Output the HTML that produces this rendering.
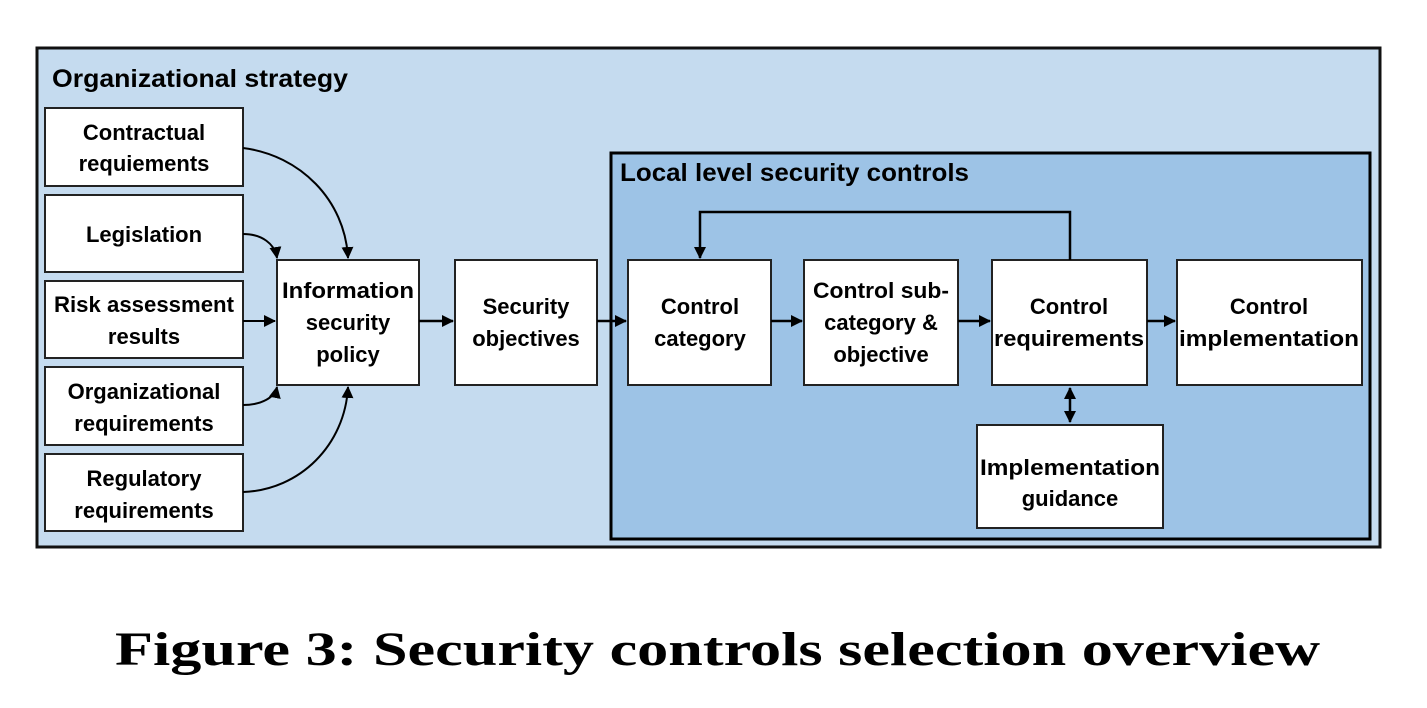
<!DOCTYPE html>
<html><head><meta charset="utf-8"><style>
html,body{margin:0;padding:0;background:#fff;}
svg{display:block;}
.t{font-family:"Liberation Sans",sans-serif;font-weight:bold;font-size:22px;fill:#000;text-anchor:middle;}
</style></head><body>
<svg width="1427" height="708" viewBox="0 0 1427 708" xmlns="http://www.w3.org/2000/svg">
<defs>
<marker id="a" markerWidth="12" markerHeight="12" refX="11" refY="6" orient="auto" markerUnits="userSpaceOnUse">
<path d="M0,0 L12,6 L0,12 Z" fill="#000"/></marker>
<marker id="as" markerWidth="12" markerHeight="12" refX="1" refY="6" orient="auto" markerUnits="userSpaceOnUse">
<path d="M12,0 L0,6 L12,12 Z" fill="#000"/></marker>
</defs>
<rect x="37" y="48" width="1343" height="499" fill="#c5dbef" stroke="#111" stroke-width="3"/>
<text x="52" y="87" class="t" style="text-anchor:start;font-size:25px" textLength="296" lengthAdjust="spacingAndGlyphs">Organizational strategy</text>
<rect x="611" y="153" width="759" height="386" fill="#9dc3e6" stroke="#000" stroke-width="3"/>
<text x="620" y="181" class="t" style="text-anchor:start;font-size:25px" textLength="349" lengthAdjust="spacingAndGlyphs">Local level security controls</text>
<g fill="#fff" stroke="#222" stroke-width="2">
<rect x="45" y="108" width="198" height="78"/>
<rect x="45" y="195" width="198" height="77"/>
<rect x="45" y="281" width="198" height="77"/>
<rect x="45" y="367" width="198" height="78"/>
<rect x="45" y="454" width="198" height="77"/>
<rect x="277" y="260" width="142" height="125"/>
<rect x="455" y="260" width="142" height="125"/>
<rect x="628" y="260" width="143" height="125"/>
<rect x="804" y="260" width="154" height="125"/>
<rect x="992" y="260" width="155" height="125"/>
<rect x="1177" y="260" width="185" height="125"/>
<rect x="977" y="425" width="186" height="103"/>
</g>
<g class="t">
<text x="144" y="140">Contractual</text><text x="144" y="171">requiements</text>
<text x="144" y="242">Legislation</text>
<text x="144" y="312" textLength="180" lengthAdjust="spacingAndGlyphs">Risk assessment</text><text x="144" y="344">results</text>
<text x="144" y="399">Organizational</text><text x="144" y="431">requirements</text>
<text x="144" y="486">Regulatory</text><text x="144" y="518">requirements</text>
<text x="348" y="298" textLength="132" lengthAdjust="spacingAndGlyphs">Information</text><text x="348" y="330">security</text><text x="348" y="362">policy</text>
<text x="526" y="314">Security</text><text x="526" y="346">objectives</text>
<text x="700" y="314">Control</text><text x="700" y="346">category</text>
<text x="881" y="298" textLength="136" lengthAdjust="spacingAndGlyphs">Control sub-</text><text x="881" y="330">category &amp;</text><text x="881" y="362">objective</text>
<text x="1069" y="314">Control</text><text x="1069" y="346" textLength="150" lengthAdjust="spacingAndGlyphs">requirements</text>
<text x="1269" y="314">Control</text><text x="1269" y="346" textLength="180" lengthAdjust="spacingAndGlyphs">implementation</text>
<text x="1070" y="475" textLength="180" lengthAdjust="spacingAndGlyphs">Implementation</text><text x="1070" y="506">guidance</text>
</g>
<g fill="none" stroke="#000" stroke-width="2">
<path d="M243,148 C300,155 345,200 348,258" marker-end="url(#a)"/>
<path d="M243,234 C262,234 275,244 277,258" marker-end="url(#a)"/>
<path d="M243,321 L275,321" marker-end="url(#a)"/>
<path d="M243,405 C262,405 275,397 277,387" marker-end="url(#a)"/>
<path d="M243,492 C300,490 345,445 348,387" marker-end="url(#a)"/>
<path d="M419,321 L453,321" stroke-width="2.5" marker-end="url(#a)"/>
<path d="M597,321 L626,321" stroke-width="2.5" marker-end="url(#a)"/>
<path d="M771,321 L802,321" stroke-width="2.5" marker-end="url(#a)"/>
<path d="M958,321 L990,321" stroke-width="2.5" marker-end="url(#a)"/>
<path d="M1147,321 L1175,321" stroke-width="2.5" marker-end="url(#a)"/>
<path d="M1070,260 L1070,212 L700,212 L700,258" stroke-width="2.5" marker-end="url(#a)"/>
<path d="M1070,388 L1070,422" stroke-width="2.5" marker-start="url(#as)" marker-end="url(#a)"/>
</g>
<text x="115" y="665" textLength="1205" lengthAdjust="spacingAndGlyphs" style="font-family:'Liberation Serif',serif;font-weight:bold;font-size:48px">Figure 3: Security controls selection overview</text>
</svg>
</body></html>
